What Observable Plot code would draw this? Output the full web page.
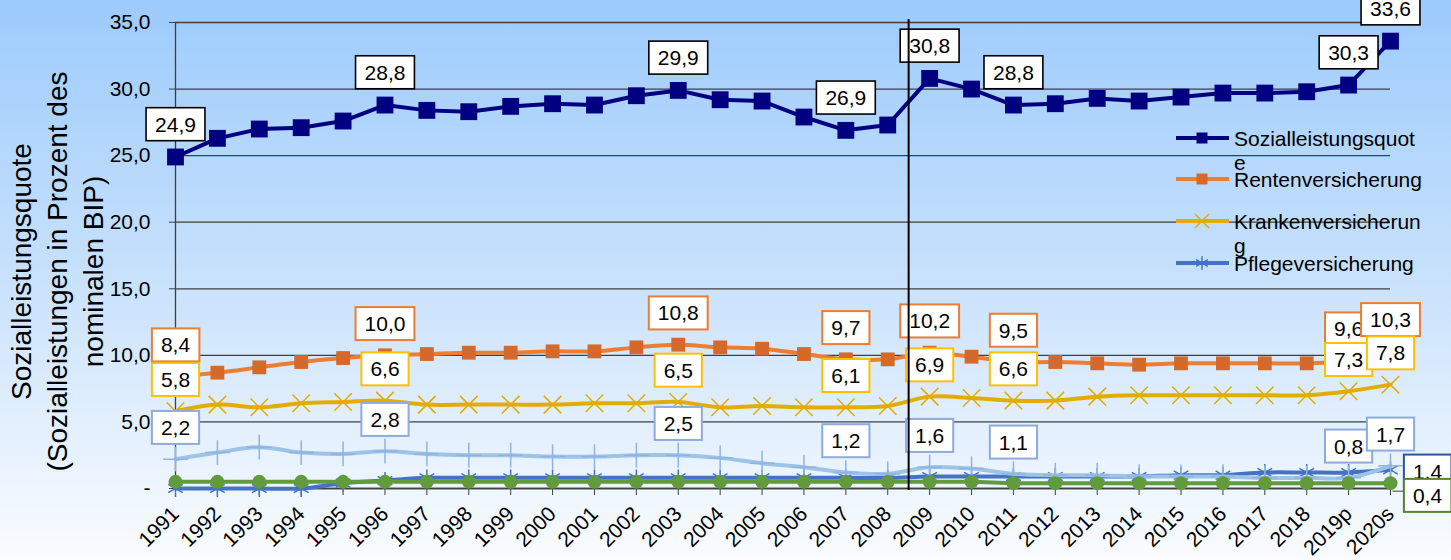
<!DOCTYPE html>
<html><head><meta charset="utf-8">
<script src="https://cdn.jsdelivr.net/npm/d3@7"></script>
<script src="https://cdn.jsdelivr.net/npm/@observablehq/plot@0.6"></script>
<style>
html,body{margin:0;padding:0;}
body{width:1451px;height:560px;overflow:hidden;background:linear-gradient(to bottom,#9DCBFD 0%,#C4DFFC 45%,#FAFCFF 100%);font-family:"Liberation Sans",Arial,sans-serif;}
svg{display:block;}
</style></head><body><div id="chart"></div>
<script>
// ---- data ----
const years = ["1991","1992","1993","1994","1995","1996","1997","1998","1999","2000","2001","2002","2003","2004","2005","2006","2007","2008","2009","2010","2011","2012","2013","2014","2015","2016","2017","2018","2019p","2020s"];
const sozialleistungsquote = [24.9,26.3,27.0,27.1,27.6,28.8,28.4,28.3,28.7,28.9,28.8,29.5,29.9,29.2,29.1,27.9,26.9,27.3,30.8,30.0,28.8,28.9,29.3,29.1,29.4,29.7,29.7,29.8,30.3,33.6];
const rentenversicherung = [8.4,8.7,9.1,9.5,9.8,10.0,10.1,10.2,10.2,10.3,10.3,10.6,10.8,10.6,10.5,10.1,9.7,9.7,10.2,9.9,9.5,9.5,9.4,9.3,9.4,9.4,9.4,9.4,9.6,10.3];
const krankenversicherung = [5.8,6.3,6.1,6.4,6.5,6.6,6.3,6.3,6.3,6.3,6.4,6.4,6.5,6.1,6.2,6.1,6.1,6.2,6.9,6.8,6.6,6.6,6.9,7.0,7.0,7.0,7.0,7.0,7.3,7.8];
const pflegeversicherung = [0,0,0,0,0.4,0.6,0.8,0.8,0.8,0.8,0.8,0.8,0.8,0.8,0.8,0.8,0.8,0.8,0.9,0.9,0.9,0.9,0.9,0.9,1.0,1.0,1.2,1.2,1.2,1.4];
const arbeitslosenversicherung = [2.2,2.7,3.1,2.7,2.6,2.8,2.6,2.5,2.5,2.4,2.4,2.5,2.5,2.3,1.9,1.6,1.2,1.1,1.6,1.5,1.1,1.0,1.0,0.9,0.9,0.9,0.8,0.8,0.8,1.7];
const unfallversicherung = [0.5,0.5,0.5,0.5,0.5,0.5,0.5,0.5,0.5,0.5,0.5,0.5,0.5,0.5,0.5,0.5,0.5,0.5,0.5,0.5,0.4,0.4,0.4,0.4,0.4,0.4,0.4,0.4,0.4,0.4];
const labelYears = ["1991","1996","2003","2007","2009","2011","2019p","2020s"];
const lastYear = ["2020s"];
const breakYear = ["2009"];
const yTicks = [0,5,10,15,20,25,30,35];
const yTitle = "Sozialleistungsquote\n(Sozialleistungen in Prozent des\nnominalen BIP)";
const legendNames = ["Sozialleistungsquot\ne","Rentenversicherung","Krankenversicherun\ng","Pflegeversicherung"];

// ---- helpers ----
const rows = vals => years.map((year, i) => ({year, value: vals[i]}));
const fmt = v => d3.format(".1f")(v).replace(".", ",");
const pick = (vals, ys) => rows(vals).filter(d => ys.includes(d.year));

const C = {
  navy: "#000080",
  orange: "#ED7D31", orangeMk: "#D4692B", orangeBox: "#ED7D31",
  yellow: "#E3AC00", yellowBox: "#FFC000",
  lblue: "#9DC3E6", lblueMk: "#8FB4E3", lblueBox: "#8FAADC",
  blue: "#4472C4", blueBox: "#2F5597",
  green: "#629B3C", greenBox: "#548235"
};

const curve = "catmull-rom";
const lbl = (vals, ys, name, dx, dy) => Plot.text(pick(vals, ys), {x: "year", y: "value", text: d => fmt(d.value), dx, dy, fontSize: 21, fill: "black", ariaDescription: name});

const svg = Plot.plot({
  width: 1451, height: 560,
  marginTop: 22, marginBottom: 72, marginLeft: 175, marginRight: 61,
  style: {background: "transparent", fontFamily: "'Liberation Sans', Arial, sans-serif", fontSize: "21px", color: "black"},
  x: {type: "point", domain: years, padding: 0, round: false},
  y: {domain: [0, 35]},
  marks: [
    Plot.gridY(yTicks, {stroke: "#3F3F3F", strokeOpacity: 1, strokeWidth: 1.3}),
    Plot.axisY(yTicks, {tickFormat: d => d === 0 ? "-" : fmt(d), tickSize: 6, tickPadding: 19, fontSize: 21, stroke: "#3F3F3F", label: null}),
    Plot.axisX({tickRotate: -45, tickSize: 7, tickPadding: 15, fontSize: 21, stroke: "#3F3F3F", label: null}),
    Plot.ruleX([years[0]], {y1: 0, y2: 35, stroke: "#3F3F3F", strokeWidth: 1.3}),
    Plot.ruleY([0], {stroke: "#3F3F3F", strokeWidth: 1.3}),

    Plot.line(rows(sozialleistungsquote), {x: "year", y: "value", stroke: C.navy, strokeWidth: 4}),
    Plot.dot(rows(sozialleistungsquote), {x: "year", y: "value", symbol: "square", r: 9.5, fill: C.navy}),

    Plot.line(rows(rentenversicherung), {x: "year", y: "value", stroke: C.orange, strokeWidth: 4, curve}),
    Plot.dot(rows(rentenversicherung), {x: "year", y: "value", symbol: "square", r: 7.8, fill: C.orangeMk}),

    Plot.line(rows(krankenversicherung), {x: "year", y: "value", stroke: C.yellow, strokeWidth: 4, curve}),
    Plot.dot(rows(krankenversicherung), {x: "year", y: "value", symbol: "times", r: 8, stroke: C.yellow, strokeWidth: 1.5}),

    Plot.line(rows(pflegeversicherung), {x: "year", y: "value", stroke: C.blue, strokeWidth: 4, curve}),
    Plot.dot(rows(pflegeversicherung), {x: "year", y: "value", symbol: "asterisk", r: 8, stroke: C.blue, strokeWidth: 1.5}),

    Plot.line(rows(arbeitslosenversicherung), {x: "year", y: "value", stroke: C.lblue, strokeWidth: 4, curve}),
    Plot.dot(rows(arbeitslosenversicherung), {x: "year", y: "value", symbol: "plus", r: 8, stroke: C.lblueMk, strokeWidth: 1.5}),

    Plot.line(rows(unfallversicherung), {x: "year", y: "value", stroke: C.green, strokeWidth: 4, curve}),
    Plot.dot(rows(unfallversicherung), {x: "year", y: "value", r: 7, fill: C.green}),

    // leader line of the last green label
    Plot.link(pick(unfallversicherung, lastYear), {x1: "year", y1: "value", x2: "year", y2: "value", dx: 2, dy: 8, stroke: "#404040", strokeWidth: 1, insetBottom: 0}),

    lbl(sozialleistungsquote, labelYears, "lbl-navy", 0, -32),
    lbl(rentenversicherung, labelYears, "lbl-orange", 0, -31),
    lbl(krankenversicherung, labelYears, "lbl-yellow", 0, -31),
    lbl(arbeitslosenversicherung, labelYears, "lbl-lblue", 0, -31),
    lbl(pflegeversicherung, lastYear, "lbl-blue", 37, 2),
    lbl(unfallversicherung, lastYear, "lbl-green", 37, 13),

    Plot.ruleX(breakYear, {dx: -21, y1: 0, y2: 35, insetTop: 2, insetBottom: 3, stroke: "black", strokeWidth: 2}),

    Plot.text([yTitle], {text: d => d, frameAnchor: "left", rotate: -90, dx: -120, dy: 16, fontSize: 28, lineHeight: 1.28, textAnchor: "middle", lineAnchor: "middle", fill: "black"})
  ]
});
document.getElementById("chart").appendChild(svg);

// ---- white label boxes ----
const ns = "http://www.w3.org/2000/svg";
const boxColors = {"lbl-navy": "#000000", "lbl-orange": C.orangeBox, "lbl-yellow": C.yellowBox, "lbl-lblue": C.lblueBox, "lbl-blue": C.blueBox, "lbl-green": C.greenBox};
for (const [name, col] of Object.entries(boxColors)) {
  const g = svg.querySelector(`g[aria-description="${name}"]`);
  if (!g) continue;
  for (const t of Array.from(g.querySelectorAll("text"))) {
    const bb = t.getBBox();
    const r = document.createElementNS(ns, "rect");
    const h = 33;
    r.setAttribute("x", bb.x - 9);
    r.setAttribute("y", bb.y + bb.height / 2 - h / 2);
    r.setAttribute("width", bb.width + 18);
    r.setAttribute("height", h);
    r.setAttribute("fill", "white");
    r.setAttribute("stroke", col);
    r.setAttribute("stroke-width", name === "lbl-navy" ? 1.6 : 2);
    const tr = t.getAttribute("transform");
    if (tr) r.setAttribute("transform", tr);
    g.insertBefore(r, t);
  }
}

// leader line: short horizontal piece towards the green label box
const linkG = svg.querySelector('g[aria-label="link"]');
if (linkG) {
  const p = linkG.querySelector("path, line");
  if (p) {
    const bb = p.getBBox();
    const h = document.createElementNS(ns, "line");
    h.setAttribute("x1", bb.x); h.setAttribute("x2", bb.x + 12);
    h.setAttribute("y1", bb.y + bb.height); h.setAttribute("y2", bb.y + bb.height);
    h.setAttribute("stroke", "#404040"); h.setAttribute("stroke-width", 1);
    linkG.appendChild(h);
  }
}

// ---- legend ----
const legendColors = [C.navy, C.orange, C.yellow, C.blue];
const legendMarkFill = [C.navy, C.orangeMk, null, null];
const legendSymbols = [d3.symbolSquare, d3.symbolSquare, d3.symbolTimes, d3.symbolAsterisk];
const legendY = [138, 179, 221, 263];
const lg = document.createElementNS(ns, "g");
lg.setAttribute("text-anchor", "start");
svg.appendChild(lg);
legendNames.forEach((name, i) => {
  const y = legendY[i];
  const line = document.createElementNS(ns, "line");
  line.setAttribute("x1", 1176); line.setAttribute("x2", 1229);
  line.setAttribute("y1", y); line.setAttribute("y2", y);
  line.setAttribute("stroke", legendColors[i]); line.setAttribute("stroke-width", 4);
  lg.appendChild(line);
  const p = document.createElementNS(ns, "path");
  const isFill = legendMarkFill[i] != null;
  p.setAttribute("d", d3.symbol(legendSymbols[i], isFill ? 121 : 130)());
  p.setAttribute("transform", `translate(1202,${y})`);
  if (isFill) p.setAttribute("fill", legendMarkFill[i]);
  else { p.setAttribute("fill", "none"); p.setAttribute("stroke", legendColors[i]); p.setAttribute("stroke-width", 1.5); }
  lg.appendChild(p);
  name.split("\n").forEach((part, k) => {
    const t = document.createElementNS(ns, "text");
    t.setAttribute("x", 1234);
    t.setAttribute("y", y + 7.5 + k * 24);
    t.setAttribute("font-size", 21);
    t.setAttribute("fill", "black");
    t.setAttribute("text-anchor", "start");
    t.textContent = part;
    lg.appendChild(t);
  });
});
</script>
</body></html>
